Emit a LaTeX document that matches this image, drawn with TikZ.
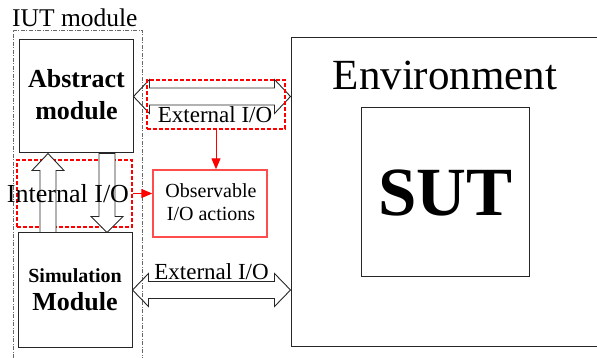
\documentclass[tikz,border=0pt]{standalone}
\usepackage{fontspec}
\setmainfont{Liberation Serif}
\usetikzlibrary{arrows.meta,calc}
\begin{document}
\begin{tikzpicture}[x=1pt,y=-1pt,
  box/.style={draw=black!85,line width=1pt,inner sep=0pt},
  reddash/.style={draw=red,line width=2pt,dash pattern=on 4pt off 2pt,inner sep=0pt},
  obsbox/.style={draw=red!70,line width=1.4pt,inner sep=0pt},
  blockarrow/.style={draw=black!85,line width=0.9pt,fill=white,line join=miter},
  redarrow/.style={draw=red,line width=1pt,-{Triangle[length=11pt,width=9pt]}},
  iutbox/.style={draw=black!60,line width=0.8pt,dash pattern=on 4pt off 1.5pt on 1pt off 1.5pt,inner sep=0pt},
  txt/.style={inner sep=0pt,anchor=base}]
\useasboundingbox (0,0) rectangle (597,358);
% IUT module frame
\node[iutbox,minimum width=129pt,minimum height=330pt] (iut) at (77.5,195) {};
\node[txt,anchor=base west] (iutlbl) at (12,27) {\fontsize{25.5}{28}\selectfont IUT module};
% main boxes
\node[box,minimum width=114pt,minimum height=113pt] (abs) at (76,96.5) {};
\node[box,minimum width=114pt,minimum height=114pt] (sim) at (75,290) {};
\node[box,minimum width=309pt,minimum height=308pt] (env) at (445.5,192) {};
\node[box,minimum width=168pt,minimum height=168pt] (sut) at (445,192) {};
% texts in boxes
\node[txt] (abs1) at (76.5,88) {\fontsize{26}{30}\selectfont\bfseries Abstract};
\node[txt] (abs2) at (76.5,120) {\fontsize{26}{30}\selectfont\bfseries module};
\node[txt] (sim1) at (75,282) {\fontsize{20}{24}\selectfont\bfseries Simulation};
\node[txt] (sim2) at (75,310) {\fontsize{26}{30}\selectfont\bfseries Module};
\node[txt] (envlbl) at (445,90) {\fontsize{43}{48}\selectfont Environment};
\node[txt] (sutlbl) at (445.5,215) {\fontsize{69}{75}\selectfont\bfseries SUT};
% internal I/O
\node[reddash,minimum width=115pt,minimum height=67pt] (intbox) at (74.5,193.5) {};
\draw[blockarrow] let \p1=(sim.north), \p2=(abs.south) in
  (40pt,\y1) -- (40pt,\y2-17pt) -- (32pt,\y2-17pt) -- (48pt,\y2) -- (64pt,\y2-17pt) -- (56pt,\y2-17pt) -- (56pt,\y1) -- cycle;
\draw[blockarrow] let \p1=(sim.north), \p2=(abs.south) in
  (99pt,\y2) -- (99pt,\y1+16pt) -- (91pt,\y1+16pt) -- (107pt,\y1) -- (123pt,\y1+16pt) -- (115pt,\y1+16pt) -- (115pt,\y2) -- cycle;
\node[txt] (intlbl) at (68,203) {\fontsize{26}{30}\selectfont Internal I/O};
% top external I/O
\draw[blockarrow,fill=none] let \p1=(abs.east), \p2=(env.west) in
  (\x1,\y1) -- (\x1+16pt,\y1+17pt) -- (\x1+16pt,\y1+8.5pt) -- (\x2-16pt,\y1+8.5pt) -- (\x2-16pt,\y1+17pt) -- (\x2,\y1)
  -- (\x2-16pt,\y1-17pt) -- (\x2-16pt,\y1-8.5pt) -- (\x1+16pt,\y1-8.5pt) -- (\x1+16pt,\y1-17pt) -- cycle;
\node[reddash,minimum width=138pt,minimum height=49pt] (extbox) at (216,104.5) {};
\node[txt] (extlbl1) at (215,123) {\fontsize{23}{27}\selectfont External I/O};
% bottom external I/O
\draw[blockarrow,fill=none] let \p1=(sim.east), \p2=(env.west) in
  (\x1,\y1) -- (\x1+16pt,\y1+16.5pt) -- (\x1+16pt,\y1+8.5pt) -- (\x2-16pt,\y1+8.5pt) -- (\x2-16pt,\y1+16.5pt) -- (\x2,\y1)
  -- (\x2-16pt,\y1-16.5pt) -- (\x2-16pt,\y1-8.5pt) -- (\x1+16pt,\y1-8.5pt) -- (\x1+16pt,\y1-16.5pt) -- cycle;
\node[txt] (extlbl2) at (211.5,279) {\fontsize{23}{27}\selectfont External I/O};
% observable
\node[obsbox,minimum width=114pt,minimum height=67pt] (obs) at (210,203.5) {};
\node[txt] (obs1) at (211,198) {\fontsize{20}{24}\selectfont Observable};
\node[txt] (obs2) at (211,221) {\fontsize{20}{24}\selectfont I/O actions};
\draw[redarrow] (extbox.south) -- (extbox.south |- obs.north);
\draw[redarrow] (intbox.east) -- (intbox.east -| obs.west);
\end{tikzpicture}
\end{document}
